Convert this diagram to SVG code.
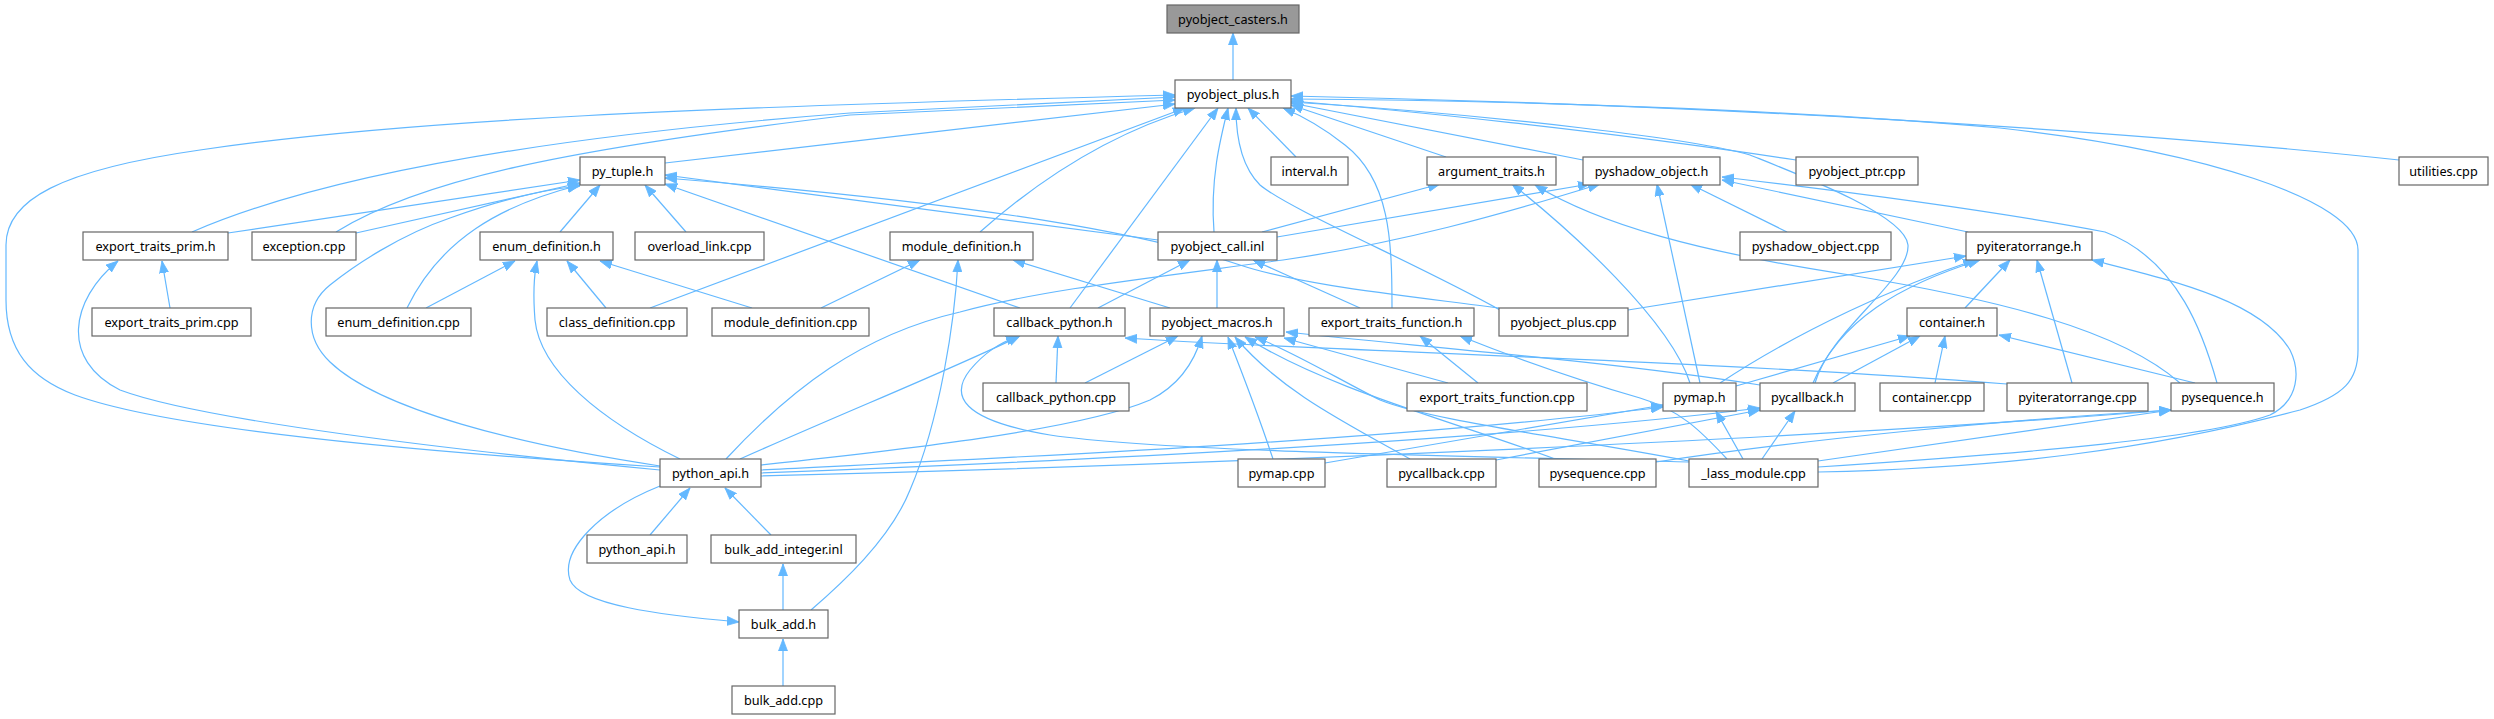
<svg xmlns="http://www.w3.org/2000/svg" width="2494" height="719" viewBox="0 0 2494 719">
<style>
.n rect{fill:#ffffff;stroke:#666666;stroke-width:1.2}
.n.root rect{fill:#999999}
.n text{font-family:"Noto Sans","Open Sans","DejaVu Sans",sans-serif;font-size:12.7px;text-anchor:middle;fill:#000000}
.e path{fill:none;stroke:#63b8ff;stroke-width:1.2;marker-end:url(#ah)}
</style>
<defs>
<marker id="ah" markerUnits="userSpaceOnUse" markerWidth="13" markerHeight="10" refX="12" refY="5" orient="auto"><path d="M0,0.5 L12,5 L0,9.5 Z" fill="#63b8ff" stroke="#63b8ff" stroke-width="0.8"/></marker>
</defs>
<rect width="2494" height="719" fill="#ffffff"/>
<g id="edges" class="e">
<path d="M1233,80 L1233,33"/>
<path d="M660,467 C420,452 170,430 75,395 C30,378 6,350 6,300 L6,245 C6,200 60,170 200,150 C400,120 700,107 1175,95"/>
<path d="M192,232 C300,185 500,140 850,113 L1175,97"/>
<path d="M336,232 C420,180 560,150 850,115 L1175,100"/>
<path d="M665,163 L1175,104"/>
<path d="M980,232 C1050,170 1120,130 1195,108"/>
<path d="M650,308 L1185,108"/>
<path d="M1070,308 L1218,108"/>
<path d="M1214,232 C1210,180 1220,140 1228,108"/>
<path d="M1500,310 C1420,265 1290,210 1260,185 C1240,165 1236,135 1236,108"/>
<path d="M1296,157 L1248,108"/>
<path d="M1392,308 C1392,240 1390,180 1345,145 C1320,125 1300,115 1283,108"/>
<path d="M1446,157 L1291,105"/>
<path d="M1583,160 L1291,103"/>
<path d="M1796,160 C1600,130 1400,110 1291,101"/>
<path d="M2399,160 C2100,128 1700,105 1291,96"/>
<path d="M1818,472 C2000,468 2150,450 2300,410 C2345,395 2358,380 2358,350 L2358,250 C2358,200 2200,150 2000,128 C1800,110 1500,100 1291,99"/>
<path d="M1815,383 C1830,330 1910,280 1908,245 C1905,215 1800,175 1750,155 C1700,140 1500,115 1291,102"/>
<path d="M1968,232 L1722,180"/>
<path d="M2217,383 C2205,340 2180,260 2105,232 C2000,212 1850,192 1722,177"/>
<path d="M1262,232 L1440,184"/>
<path d="M1277,237 L1590,184"/>
<path d="M726,459 C790,390 860,335 960,312 C1040,290 1150,278 1283,260 C1400,243 1500,215 1600,184"/>
<path d="M1690,383 C1670,320 1570,230 1512,184"/>
<path d="M2180,383 C2120,330 2000,300 1850,275 C1700,252 1600,225 1535,185"/>
<path d="M1700,383 L1657,184"/>
<path d="M1787,232 L1690,184"/>
<path d="M1628,310 L1966,256"/>
<path d="M1720,383 C1800,330 1900,285 1975,260"/>
<path d="M1813,383 C1840,320 1900,285 1980,260"/>
<path d="M1965,308 L2010,260"/>
<path d="M2072,383 L2037,260"/>
<path d="M1818,467 C2000,455 2200,440 2270,415 C2300,400 2300,370 2290,350 C2260,300 2170,280 2092,260"/>
<path d="M2195,383 L1999,335"/>
<path d="M1736,386 L1910,336"/>
<path d="M1833,383 L1920,336"/>
<path d="M1935,383 L1945,336"/>
<path d="M1325,463 L1663,405"/>
<path d="M1743,459 L1716,411"/>
<path d="M761,470 C1000,458 1400,440 1663,407"/>
<path d="M1496,460 L1760,410"/>
<path d="M1762,459 L1795,411"/>
<path d="M761,473 C1100,460 1500,440 1760,408"/>
<path d="M1656,462 C1800,440 2000,420 2171,410"/>
<path d="M1818,461 L2171,410"/>
<path d="M761,476 C1200,465 1800,440 2171,410"/>
<path d="M1085,383 L1178,336"/>
<path d="M761,465 C900,450 1080,430 1150,400 C1180,385 1195,360 1202,336"/>
<path d="M1273,459 C1260,420 1245,380 1228,337"/>
<path d="M1410,459 C1340,420 1280,390 1235,337"/>
<path d="M1555,459 C1450,420 1330,390 1245,337"/>
<path d="M1689,461 C1550,435 1430,420 1380,400 C1340,380 1290,350 1255,337"/>
<path d="M1448,383 L1284,338"/>
<path d="M1760,385 C1600,360 1400,345 1286,332"/>
<path d="M2007,384 C1700,360 1300,350 1125,338"/>
<path d="M1478,383 L1420,336"/>
<path d="M1727,459 C1700,430 1680,410 1640,398 C1560,375 1500,352 1460,336"/>
<path d="M1098,308 L1190,260"/>
<path d="M1217,308 L1217,260"/>
<path d="M1360,308 L1253,260"/>
<path d="M821,308 L920,260"/>
<path d="M811,610 C840,585 890,540 910,490 C940,420 955,320 958,260"/>
<path d="M1170,308 L1013,260"/>
<path d="M1056,383 L1058,336"/>
<path d="M740,459 C850,410 950,370 1020,336"/>
<path d="M1689,462 C1400,455 1150,450 1050,435 C960,420 950,395 970,370 C985,352 1000,343 1018,336"/>
<path d="M228,233 L580,180"/>
<path d="M356,233 L580,183"/>
<path d="M407,308 C440,240 500,205 580,185"/>
<path d="M660,466 C520,445 380,410 330,362 C305,338 305,305 330,285 C355,265 400,235 450,218 C500,200 540,190 580,186"/>
<path d="M560,232 L600,185"/>
<path d="M686,232 L645,185"/>
<path d="M1020,308 L665,184"/>
<path d="M1158,240 L665,175"/>
<path d="M1499,308 C1400,295 1300,285 1240,265 C1150,235 1000,205 665,178"/>
<path d="M426,308 L515,261"/>
<path d="M606,308 L567,261"/>
<path d="M752,308 L600,261"/>
<path d="M680,459 C600,420 540,370 535,320 C533,295 534,275 537,261"/>
<path d="M170,308 L162,261"/>
<path d="M660,470 C450,450 200,420 120,390 C60,360 70,300 118,261"/>
<path d="M650,535 L690,488"/>
<path d="M771,535 L725,488"/>
<path d="M660,486 C600,510 560,550 570,580 C580,605 660,615 739,622"/>
<path d="M783,610 L783,564"/>
<path d="M783,686 L783,639"/>
</g>
<g id="n0" class="n root"><rect x="1167" y="5" width="132" height="28"/><text x="1233" y="23.5">pyobject_casters.h</text></g>
<g id="n1" class="n"><rect x="1175" y="80" width="116" height="28"/><text x="1233" y="98.5">pyobject_plus.h</text></g>
<g id="n2" class="n"><rect x="580" y="157" width="85" height="28"/><text x="622.5" y="175.5">py_tuple.h</text></g>
<g id="n3" class="n"><rect x="1271" y="157" width="77" height="28"/><text x="1309.5" y="175.5">interval.h</text></g>
<g id="n4" class="n"><rect x="1427" y="157" width="129" height="28"/><text x="1491.5" y="175.5">argument_traits.h</text></g>
<g id="n5" class="n"><rect x="1583" y="157" width="137" height="28"/><text x="1651.5" y="175.5">pyshadow_object.h</text></g>
<g id="n6" class="n"><rect x="1796" y="157" width="122" height="28"/><text x="1857" y="175.5">pyobject_ptr.cpp</text></g>
<g id="n7" class="n"><rect x="2399" y="157" width="89" height="28"/><text x="2443.5" y="175.5">utilities.cpp</text></g>
<g id="n8" class="n"><rect x="83" y="232" width="145" height="28"/><text x="155.5" y="250.5">export_traits_prim.h</text></g>
<g id="n9" class="n"><rect x="252" y="232" width="104" height="28"/><text x="304" y="250.5">exception.cpp</text></g>
<g id="n10" class="n"><rect x="480" y="232" width="133" height="28"/><text x="546.5" y="250.5">enum_definition.h</text></g>
<g id="n11" class="n"><rect x="635" y="232" width="129" height="28"/><text x="699.5" y="250.5">overload_link.cpp</text></g>
<g id="n12" class="n"><rect x="890" y="232" width="143" height="28"/><text x="961.5" y="250.5">module_definition.h</text></g>
<g id="n13" class="n"><rect x="1158" y="232" width="119" height="28"/><text x="1217.5" y="250.5">pyobject_call.inl</text></g>
<g id="n14" class="n"><rect x="1740" y="232" width="151" height="28"/><text x="1815.5" y="250.5">pyshadow_object.cpp</text></g>
<g id="n15" class="n"><rect x="1966" y="232" width="126" height="28"/><text x="2029" y="250.5">pyiteratorrange.h</text></g>
<g id="n16" class="n"><rect x="92" y="308" width="159" height="28"/><text x="171.5" y="326.5">export_traits_prim.cpp</text></g>
<g id="n17" class="n"><rect x="326" y="308" width="145" height="28"/><text x="398.5" y="326.5">enum_definition.cpp</text></g>
<g id="n18" class="n"><rect x="547" y="308" width="140" height="28"/><text x="617" y="326.5">class_definition.cpp</text></g>
<g id="n19" class="n"><rect x="712" y="308" width="157" height="28"/><text x="790.5" y="326.5">module_definition.cpp</text></g>
<g id="n20" class="n"><rect x="994" y="308" width="131" height="28"/><text x="1059.5" y="326.5">callback_python.h</text></g>
<g id="n21" class="n"><rect x="1150" y="308" width="134" height="28"/><text x="1217" y="326.5">pyobject_macros.h</text></g>
<g id="n22" class="n"><rect x="1309" y="308" width="165" height="28"/><text x="1391.5" y="326.5">export_traits_function.h</text></g>
<g id="n23" class="n"><rect x="1499" y="308" width="129" height="28"/><text x="1563.5" y="326.5">pyobject_plus.cpp</text></g>
<g id="n24" class="n"><rect x="1907" y="308" width="90" height="28"/><text x="1952" y="326.5">container.h</text></g>
<g id="n25" class="n"><rect x="983" y="383" width="146" height="28"/><text x="1056" y="401.5">callback_python.cpp</text></g>
<g id="n26" class="n"><rect x="1407" y="383" width="180" height="28"/><text x="1497" y="401.5">export_traits_function.cpp</text></g>
<g id="n27" class="n"><rect x="1663" y="383" width="73" height="28"/><text x="1699.5" y="401.5">pymap.h</text></g>
<g id="n28" class="n"><rect x="1760" y="383" width="95" height="28"/><text x="1807.5" y="401.5">pycallback.h</text></g>
<g id="n29" class="n"><rect x="1880" y="383" width="104" height="28"/><text x="1932" y="401.5">container.cpp</text></g>
<g id="n30" class="n"><rect x="2007" y="383" width="141" height="28"/><text x="2077.5" y="401.5">pyiteratorrange.cpp</text></g>
<g id="n31" class="n"><rect x="2171" y="383" width="103" height="28"/><text x="2222.5" y="401.5">pysequence.h</text></g>
<g id="n32" class="n"><rect x="660" y="459" width="101" height="28"/><text x="710.5" y="477.5">python_api.h</text></g>
<g id="n33" class="n"><rect x="1238" y="459" width="87" height="28"/><text x="1281.5" y="477.5">pymap.cpp</text></g>
<g id="n34" class="n"><rect x="1387" y="459" width="109" height="28"/><text x="1441.5" y="477.5">pycallback.cpp</text></g>
<g id="n35" class="n"><rect x="1539" y="459" width="117" height="28"/><text x="1597.5" y="477.5">pysequence.cpp</text></g>
<g id="n36" class="n"><rect x="1689" y="459" width="129" height="28"/><text x="1753.5" y="477.5">_lass_module.cpp</text></g>
<g id="n37" class="n"><rect x="587" y="535" width="100" height="28"/><text x="637" y="553.5">python_api.h</text></g>
<g id="n38" class="n"><rect x="711" y="535" width="145" height="28"/><text x="783.5" y="553.5">bulk_add_integer.inl</text></g>
<g id="n39" class="n"><rect x="739" y="610" width="89" height="28"/><text x="783.5" y="628.5">bulk_add.h</text></g>
<g id="n40" class="n"><rect x="732" y="686" width="103" height="28"/><text x="783.5" y="704.5">bulk_add.cpp</text></g>
</svg>
